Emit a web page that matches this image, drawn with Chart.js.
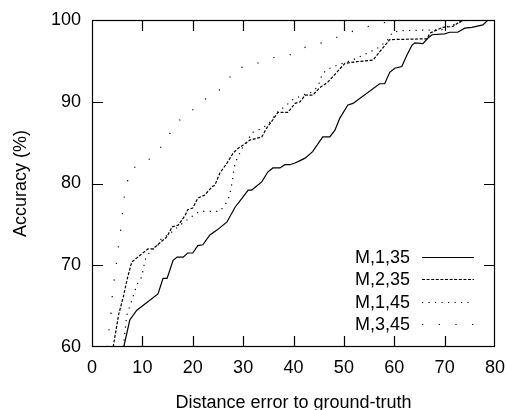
<!DOCTYPE html>
<html>
<head>
<meta charset="utf-8">
<script src="https://cdn.jsdelivr.net/npm/chart.js@4/dist/chart.umd.min.js"></script>
<style>
  html, body { margin: 0; padding: 0; background: #fff; }
  #wrap { width: 506px; height: 410px; }
</style>
</head>
<body>
<div id="wrap"><canvas id="chart" width="506" height="410"></canvas></div>
<script>
// accuracy curves
const m135X = [6.3, 7.5, 8.9, 13.1, 14.1, 14.9, 16.1, 16.9, 18.1, 19.0, 20.0, 21.0, 22.0, 23.4, 24.8, 26.8, 28.4, 29.8, 31.0, 31.7, 33.7, 34.9, 35.9, 37.3, 38.3, 39.3, 40.3, 41.3, 42.3, 43.8, 45.8, 47.2, 48.2, 49.2, 50.8, 51.8, 57.1, 58.1, 59.1, 60.1, 61.5, 62.5, 63.5, 64.1, 65.7, 66.7, 67.5, 70.0, 71.0, 72.6, 74.0, 75.4, 77.6, 78.6, 80];
const m135Y = [60, 63.3, 64.5, 66.5, 68.4, 68.4, 70.6, 71.0, 71.0, 71.5, 71.5, 72.4, 72.5, 73.7, 74.3, 75.3, 77.1, 78.2, 79.2, 79.2, 80.2, 81.4, 81.9, 81.9, 82.3, 82.3, 82.5, 82.8, 83.1, 83.9, 85.7, 85.7, 86.5, 88.0, 89.6, 89.8, 92.2, 92.2, 93.6, 94.1, 94.3, 95.7, 96.9, 97.2, 97.1, 97.8, 98.2, 98.3, 98.5, 98.5, 99.0, 99.1, 99.4, 100, 100];

const m235X = [4.2, 5.3, 6.2, 7.1, 7.9, 11.1, 12.1, 14.9, 15.9, 17.1, 18.5, 19.0, 20.0, 21.0, 22.4, 23.8, 24.4, 25.4, 26.8, 28.0, 29.0, 30.0, 31.3, 33.7, 34.7, 35.9, 36.9, 38.9, 40.3, 41.3, 42.3, 43.8, 45.2, 46.8, 48.6, 50.2, 52.6, 55.8, 57.1, 58.7, 59.1, 66.5, 67.1, 69.6, 71.6, 73.0, 74.0, 80];
const m235Y = [60, 64.0, 66.1, 68.6, 70.4, 72.0, 72.0, 73.5, 74.7, 74.9, 76.1, 76.8, 77.0, 78.2, 78.6, 79.6, 79.8, 81.3, 82.5, 83.7, 84.3, 84.7, 85.3, 85.7, 86.8, 87.8, 88.7, 88.7, 89.8, 90.0, 90.8, 90.8, 91.7, 92.4, 93.6, 94.7, 94.9, 95.1, 96.1, 97.3, 97.6, 97.7, 98.4, 99.1, 99.2, 99.8, 100, 100];

const m145X = [6.2, 6.9, 7.9, 8.9, 9.9, 10.5, 11.1, 11.9, 12.9, 13.5, 15.5, 17.5, 19.4, 21.4, 25.4, 26.4, 27.0, 27.4, 27.8, 28.4, 29.8, 30.8, 31.7, 32.9, 34.9, 35.7, 36.3, 37.3, 38.3, 39.7, 41.7, 43.7, 44.8, 45.8, 47.2, 49.2, 51.2, 52.8, 55.2, 57.1, 58.7, 59.7, 61.5, 69.4, 70.0, 71.6, 74.0, 75.0, 80];
const m145Y = [60, 63.9, 65.7, 67.6, 68.6, 70.6, 71.3, 71.9, 72.2, 73.1, 73.9, 74.9, 75.8, 76.6, 76.6, 77.4, 78.0, 78.8, 80.1, 82.5, 84.3, 85.1, 86.2, 86.5, 87.2, 87.8, 88.4, 89.0, 89.4, 90.2, 90.8, 91.2, 91.8, 93.5, 94.1, 94.6, 95.0, 95.4, 96.1, 96.7, 97.6, 98.5, 98.7, 98.8, 99.1, 99.4, 99.9, 100, 100];

const m345X = [3.0, 3.4, 3.8, 4.0, 4.4, 4.8, 5.2, 5.6, 6.0, 6.3, 6.9, 7.7, 10.3, 12.7, 14.5, 16.1, 17.9, 20.2, 22.4, 24.8, 26.8, 28.6, 31.5, 34.1, 37.1, 39.9, 42.7, 45.6, 48.2, 50.8, 53.8, 56.7, 59.5, 80];
const m345Y = [60, 62.2, 64.2, 66.1, 68.2, 70.0, 72.1, 73.9, 76.0, 78.0, 79.9, 81.8, 82.4, 83.7, 85.1, 86.8, 88.1, 89.1, 90.3, 91.1, 92.5, 94.1, 94.4, 95.0, 95.6, 95.8, 96.8, 97.2, 97.8, 98.4, 99.1, 99.4, 100, 100];

const seriesNames = ['M,1,35', 'M,2,35', 'M,1,45', 'M,3,45'];
const xTicks = [0, 10, 20, 30, 40, 50, 60, 70, 80];
const yTicks = [60, 70, 80, 90, 100];

const FONT = '"Liberation Sans", Arial, sans-serif';
const dashes = [[], [3, 1.6], [1.2, 5.3], [1.2, 15.5]];
const toPts = (xs, ys) => xs.map((x, i) => ({ x, y: ys[i] }));

// frame, inward ticks, legend
const framePlugin = {
  id: 'frame',
  afterDraw(chart) {
    const { ctx, chartArea: a, scales: { x, y } } = chart;
    const tl = 11;
    ctx.save();
    ctx.strokeStyle = '#000';
    ctx.lineWidth = 1.2;
    ctx.strokeRect(a.left + .5, a.top + .5, a.width - 1, a.height - 1);
    ctx.beginPath();
    xTicks.slice(1, -1).forEach(v => {
      const px = Math.round(x.getPixelForValue(v)) + .5;
      ctx.moveTo(px, a.bottom); ctx.lineTo(px, a.bottom - tl);
      ctx.moveTo(px, a.top); ctx.lineTo(px, a.top + tl);
    });
    yTicks.slice(1, -1).forEach(v => {
      const py = Math.round(y.getPixelForValue(v)) + .5;
      ctx.moveTo(a.left, py); ctx.lineTo(a.left + tl, py);
      ctx.moveTo(a.right, py); ctx.lineTo(a.right - tl, py);
    });
    ctx.stroke();

    // legend, bottom right inside the plot
    ctx.font = '18px ' + FONT;
    ctx.fillStyle = '#000';
    ctx.textAlign = 'right';
    ctx.textBaseline = 'middle';
    seriesNames.forEach((name, i) => {
      const ly = 257 + i * 22.4;
      ctx.fillText(name, 410, ly + 1);
      ctx.beginPath();
      ctx.setLineDash(dashes[i]);
      ctx.lineWidth = 1.2;
      ctx.moveTo(422, Math.round(ly) + .5);
      ctx.lineTo(474, Math.round(ly) + .5);
      ctx.stroke();
    });
    ctx.restore();
  }
};

const allSeries = [[m135X, m135Y], [m235X, m235Y], [m145X, m145Y], [m345X, m345Y]];

new Chart(document.getElementById('chart'), {
  type: 'line',
  data: {
    datasets: allSeries.map(([xs, ys], i) => ({
      label: seriesNames[i],
      data: toPts(xs, ys),
      borderColor: '#000',
      borderWidth: 1.2,
      borderDash: dashes[i],
      pointRadius: 0,
      tension: 0,
      fill: false,
    }))
  },
  options: {
    responsive: false,
    animation: false,
    layout: { padding: { left: 0, right: 11, top: 20, bottom: 0 } },
    plugins: { legend: { display: false }, tooltip: { enabled: false } },
    scales: {
      x: {
        type: 'linear', min: 0, max: 80,
        afterFit: s => { s.height = 63; s.paddingLeft = 0; s.paddingRight = 0; },
        afterBuildTicks: s => { s.ticks = xTicks.map(v => ({ value: v })); },
        grid: { display: false, drawTicks: false },
        border: { display: false },
        ticks: { color: '#000', font: { family: FONT, size: 18 }, padding: 10, maxRotation: 0 },
        title: { display: true, text: 'Distance error to ground-truth', color: '#000',
                 font: { family: FONT, size: 18 }, padding: { top: 0, bottom: -4 } }
      },
      y: {
        type: 'linear', min: 60, max: 100,
        afterFit: s => { s.width = 92; s.paddingTop = 0; s.paddingBottom = 0; },
        afterBuildTicks: s => { s.ticks = yTicks.map(v => ({ value: v })); },
        grid: { display: false, drawTicks: false },
        border: { display: false },
        ticks: { color: '#000', font: { family: FONT, size: 18 }, padding: 11 },
        title: { display: true, text: 'Accuracy (%)', color: '#000',
                 font: { family: FONT, size: 18 }, padding: { top: 10, bottom: 0 } }
      }
    }
  },
  plugins: [framePlugin]
});
</script>
</body>
</html>
